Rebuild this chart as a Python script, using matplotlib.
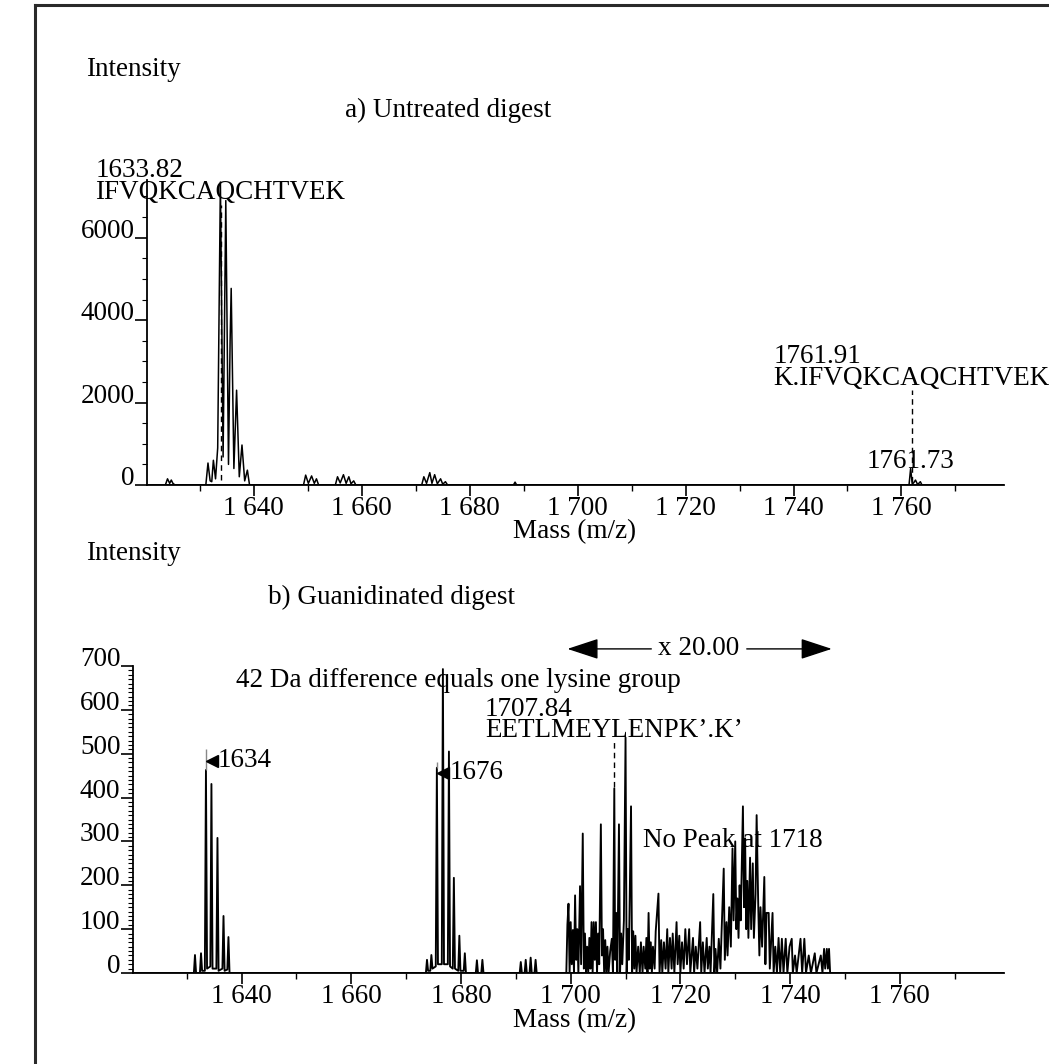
import matplotlib
matplotlib.use("Agg")
import matplotlib.pyplot as plt
from matplotlib.lines import Line2D
from matplotlib.ticker import MultipleLocator, FuncFormatter

plt.rcParams['font.family'] = ['Liberation Serif', 'DejaVu Sans']
FS = 19.5

# a) untreated digest, profile points (m/z, intensity)
a_mz = [1623.6, 1624.0, 1624.4, 1624.7, 1625.0, 1625.4,
        1631.1, 1631.5, 1631.9, 1632.2, 1632.5, 1632.9, 1633.3, 1633.8, 1634.3,
        1634.8, 1635.3, 1635.6, 1635.8, 1636.3, 1636.8, 1637.3, 1637.8, 1638.3,
        1638.8, 1639.2,
        1649.2, 1649.6, 1650.1, 1650.7, 1651.2, 1651.6, 1652.0,
        1655.1, 1655.5, 1656.0, 1656.6, 1657.1, 1657.6, 1658.0, 1658.5, 1658.9,
        1671.1, 1671.5, 1672.0, 1672.6, 1673.0, 1673.5, 1674.0, 1674.6, 1675.0,
        1675.5, 1675.9,
        1688.1, 1688.4, 1688.7,
        1761.4, 1761.7, 1762.0, 1762.3, 1762.6, 1763.0, 1763.5, 1763.8]
a_int = [0, 150, 40, 120, 40, 0,
         0, 533, 100, 80, 600, 150, 900, 7350, 680,
         6900, 500, 3500, 4770, 400, 2300, 200, 970, 100,
         360, 0,
         0, 240, 40, 220, 40, 150, 0,
         0, 200, 50, 250, 40, 200, 30, 100, 0,
         0, 200, 40, 300, 40, 250, 30, 150, 20,
         80, 0,
         0, 70, 0,
         0, 400, 20, 60, 120, 10, 80, 0]

# b) guanidinated digest (region 1699-1747 shown x 20)
b_mz = [1631.3, 1631.5, 1631.7, 1632.4, 1632.6, 1632.8, 1633.3, 1633.5, 1633.7,
        1634.3, 1634.5, 1634.7, 1635.4, 1635.6, 1635.8, 1636.5, 1636.7, 1636.9,
        1637.4, 1637.6, 1637.8,
        1673.6, 1673.8, 1674.0, 1674.4, 1674.6, 1674.8, 1675.4, 1675.6, 1675.8,
        1676.5, 1676.7, 1676.9, 1677.6, 1677.8, 1678.0, 1678.5, 1678.7, 1678.9,
        1679.5, 1679.7, 1679.9, 1680.5, 1680.7, 1680.9,
        1682.7, 1682.9, 1683.1, 1683.7, 1683.9, 1684.1,
        1690.7, 1690.9, 1691.1, 1691.6, 1691.8, 1692.0, 1692.5, 1692.7, 1692.9,
        1693.4, 1693.6, 1693.8,
        1699.2, 1699.4, 1699.6, 1699.8, 1700.0, 1700.2, 1700.4, 1700.6, 1700.8,
        1701.0, 1701.2, 1701.4, 1701.7, 1701.9, 1702.2, 1702.4, 1702.6, 1702.8,
        1703.0, 1703.2, 1703.4, 1703.6, 1703.8, 1704.0, 1704.2, 1704.4, 1704.6,
        1704.8, 1705.0, 1705.2, 1705.5, 1705.7, 1705.9, 1706.1, 1706.3, 1706.5,
        1706.7, 1706.9, 1707.2, 1707.5, 1707.7, 1707.95, 1708.1, 1708.3, 1708.5,
        1708.8, 1709.0, 1709.2, 1709.4, 1709.7, 1710.0, 1710.2, 1710.4, 1710.6,
        1711.0, 1711.2, 1711.4, 1711.6, 1711.8, 1712.0, 1712.3, 1712.6, 1712.8,
        1713.1, 1713.3, 1713.6, 1713.8, 1714.0, 1714.2, 1714.4, 1714.6, 1714.8,
        1715.0, 1715.3, 1715.5, 1716.0, 1716.2, 1716.5, 1716.7, 1717.0, 1717.3,
        1717.6, 1717.8, 1718.1, 1718.4, 1718.6, 1718.9, 1719.3, 1719.5, 1719.8,
        1720.0, 1720.3, 1720.6, 1720.9, 1721.2, 1721.6, 1721.8, 1722.3, 1722.5,
        1722.8, 1723.1, 1723.6, 1723.8, 1724.1, 1724.4, 1724.8, 1725.0, 1725.3,
        1725.5, 1726.0, 1726.2, 1726.4, 1726.7, 1727.0, 1727.3, 1727.5, 1727.9,
        1728.1, 1728.4, 1728.6, 1728.9, 1729.2, 1729.5, 1729.7, 1730.0, 1730.2,
        1730.4, 1730.6, 1730.8, 1731.0, 1731.4, 1731.6, 1731.8, 1732.0, 1732.2,
        1732.4, 1732.7, 1732.9, 1733.2, 1733.4, 1733.7, 1733.9, 1734.2, 1734.4,
        1734.6, 1734.9, 1735.3, 1735.5, 1735.7, 1736.1, 1736.3, 1736.8, 1737.0,
        1737.3, 1737.6, 1737.9, 1738.2, 1738.5, 1738.8, 1739.2, 1739.5, 1739.9,
        1740.3, 1740.5, 1740.9, 1741.2, 1741.9, 1742.2, 1742.6, 1742.9, 1743.4,
        1743.8, 1744.5, 1744.8, 1745.6, 1745.9, 1746.2, 1746.4, 1746.7, 1746.9,
        1747.1, 1747.3]
b_int = [0, 41, 0, 0, 45, 5, 5, 463, 10,
         15, 431, 10, 10, 308, 5, 10, 130, 5,
         8, 82, 0,
         0, 30, 5, 5, 41, 10, 15, 468, 20,
         20, 693, 20, 20, 505, 15, 10, 217, 10,
         5, 85, 5, 5, 45, 0,
         0, 29, 0, 0, 30, 0,
         0, 25, 0, 0, 30, 0, 0, 35, 0,
         0, 30, 0,
         0, 110, 158, 0, 116, 20, 98, 0, 177,
         30, 100, 0, 198, 20, 318, 10, 90, 0,
         60, 0, 80, 10, 116, 0, 116, 30, 116,
         0, 90, 20, 339, 40, 100, 0, 75, 0,
         60, 0, 50, 78, 0, 421, 30, 137, 0,
         339, 0, 90, 20, 120, 537, 0, 100, 30,
         380, 0, 95, 10, 85, 0, 60, 0, 70,
         0, 60, 10, 80, 0, 137, 10, 70, 0,
         60, 10, 95, 181, 0, 75, 0, 70, 10,
         100, 0, 80, 10, 90, 0, 116, 20, 85,
         0, 70, 10, 100, 20, 100, 0, 80, 0,
         60, 10, 116, 0, 70, 0, 80, 10, 60,
         0, 180, 0, 55, 0, 78, 10, 90, 238,
         30, 116, 40, 150, 60, 284, 120, 300, 100,
         170, 80, 200, 120, 380, 150, 307, 100, 210,
         80, 263, 100, 250, 80, 180, 360, 150, 40,
         150, 60, 219, 20, 137, 137, 10, 137, 0,
         60, 0, 80, 0, 78, 0, 78, 0, 60,
         78, 0, 40, 0, 78, 0, 78, 0, 40,
         0, 45, 0, 40, 0, 55, 10, 55, 10,
         55, 0]

a_yticks = [0, 2000, 4000, 6000]
b_yticks = [0, 100, 200, 300, 400, 500, 600, 700]
xlim = (1620.2, 1779.0)

fig = plt.figure(figsize=(10.49, 10.64), dpi=100)


def px(x, y):
    return x / 1049, 1 - y / 1064


def mass_fmt(v, pos):
    v = int(round(v))
    return f"{v // 1000} {v % 1000:03d}"


def style_axes(ax, yticks, ymax, yminor):
    ax.set_xlim(*xlim)
    ax.set_ylim(0, ymax)
    for s in ["top", "right"]:
        ax.spines[s].set_visible(False)
    for s in ["left", "bottom"]:
        ax.spines[s].set_linewidth(1.3)
    ax.xaxis.set_major_locator(MultipleLocator(20))
    ax.xaxis.set_minor_locator(MultipleLocator(10))
    ax.xaxis.set_major_formatter(FuncFormatter(mass_fmt))
    ax.set_yticks(yticks)
    ax.yaxis.set_minor_locator(MultipleLocator(yminor))
    ax.tick_params(axis="x", which="major", length=8, width=1.2, labelsize=FS, pad=0)
    ax.tick_params(axis="x", which="minor", length=4, width=1)
    ax.tick_params(axis="y", which="major", length=9, width=1.2, labelsize=FS, pad=0)
    ax.tick_params(axis="y", which="minor", length=3.5, width=0.8)
    for lab in ax.get_yticklabels():
        lab.set_va("baseline")
    ax.patch.set_alpha(0)


# ---- top panel
ax1 = fig.add_axes([147 / 1049, 1 - 485 / 1064, 857 / 1049, 305 / 1064])
ax1.plot(xlim, [0, 0], color="black", lw=2.0, solid_capstyle="butt")
ax1.plot(a_mz, a_int, color="black", lw=1.1)
style_axes(ax1, a_yticks, 7400, 500)

ax1.vlines(1633.82, 120, 6800, color="black", lw=1.0, linestyles=(0, (4, 3)))
ax1.text(1633.82, 6800, "1633.82\nIFVQKCAQCHTVEK", ha="center", va="bottom",
         multialignment="left", fontsize=FS, linespacing=0.82, clip_on=False)
ax1.vlines(1761.91, 80, 2300, color="black", lw=1.0, linestyles=(0, (4, 3)))
ax1.text(1761.91, 2280, "1761.91\nK.IFVQKCAQCHTVEK", ha="center", va="bottom",
         multialignment="left", fontsize=FS, linespacing=0.82, clip_on=False)
ax1.text(1761.73, 420, "1761.73", ha="center", va="baseline", fontsize=FS)

# ---- bottom panel
ax2 = fig.add_axes([133 / 1049, 1 - 973 / 1064, 871 / 1049, 307 / 1064])
ax2.plot(xlim, [0, 0], color="black", lw=2.0, solid_capstyle="butt")
ax2.plot(b_mz, b_int, color="black", lw=1.35)
style_axes(ax2, b_yticks, 700, 10)

ax2.vlines(1633.5, 463, 510, color="#888888", lw=1.0)
ax2.plot(1634.6, 484, marker="<", color="black", ms=9, clip_on=False)
ax2.text(1635.7, 484, "1634", ha="left", va="center", fontsize=FS)
ax2.vlines(1675.6, 468, 480, color="#888888", lw=1.0)
ax2.plot(1676.8, 457, marker="<", color="black", ms=9, clip_on=False)
ax2.text(1677.9, 457, "1676", ha="left", va="center", fontsize=FS)

ax2.text(1679.5, 668, "42 Da difference equals one lysine group", ha="center",
         va="center", fontsize=FS, clip_on=False)
ax2.vlines(1707.84, 425, 527, color="black", lw=1.0, linestyles=(0, (4, 3)))
ax2.text(1707.84, 524, "1707.84\nEETLMEYLENPK\u2019.K\u2019", ha="center", va="bottom",
         multialignment="left", fontsize=FS, linespacing=0.82, clip_on=False)
ax2.text(1729.5, 303, "No Peak at 1718", ha="center", va="center", fontsize=FS)

head = "-|>,head_length=0.7,head_width=0.23"
ax2.annotate("", xy=(1699.4, 739), xytext=(1714.7, 739),
             arrowprops=dict(arrowstyle=head, color="black", lw=1.0,
                             mutation_scale=28, shrinkA=0, shrinkB=0),
             annotation_clip=False)
ax2.annotate("", xy=(1747.6, 739), xytext=(1732.1, 739),
             arrowprops=dict(arrowstyle=head, color="black", lw=1.0,
                             mutation_scale=28, shrinkA=0, shrinkB=0),
             annotation_clip=False)
ax2.text(1723.3, 739, "x 20.00", ha="center", va="center", fontsize=FS, clip_on=False)

# ---- free labels
for (x, y, s, ha) in [(86, 69, "Intensity", "left"),
                      (448, 110, "a) Untreated digest", "center"),
                      (575, 532, "Mass (m/z)", "center"),
                      (86, 554, "Intensity", "left"),
                      (391, 597, "b) Guanidinated digest", "center"),
                      (575, 1021, "Mass (m/z)", "center")]:
    fx, fy = px(x, y)
    fig.text(fx, fy, s, ha=ha, va="center", fontsize=FS)

# page frame
fig.add_artist(Line2D([35 / 1049, 35 / 1049], [0, 1 - 5 / 1064], color="#2a2a2a", lw=2.2,
                      transform=fig.transFigure))
fig.add_artist(Line2D([35 / 1049, 1], [1 - 5 / 1064, 1 - 5 / 1064], color="#2a2a2a", lw=2.2,
                      transform=fig.transFigure))

fig.savefig("out.png", dpi=100)
